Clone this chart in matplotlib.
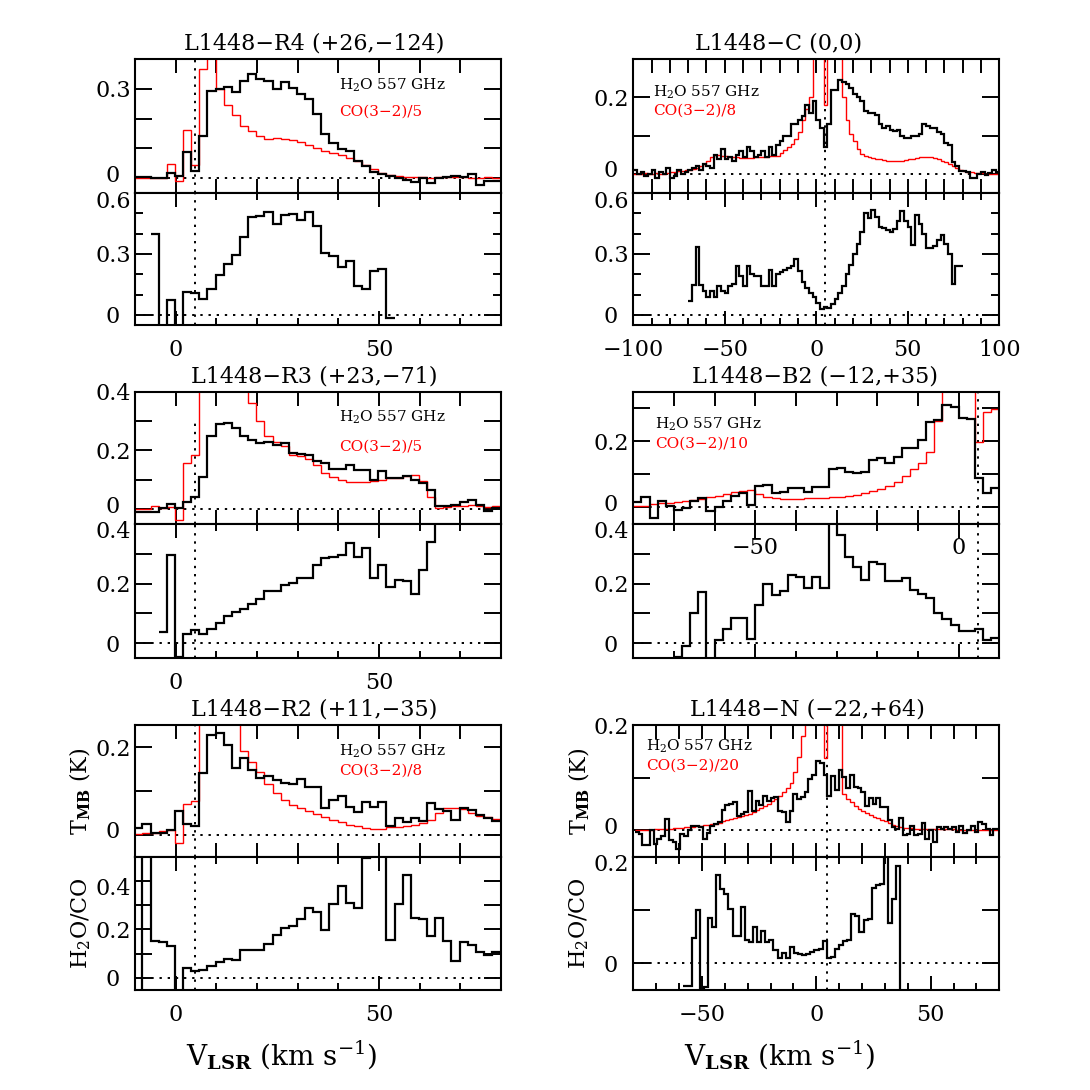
import numpy as np
import matplotlib
matplotlib.use('Agg')
import matplotlib.pyplot as plt
from matplotlib.ticker import MultipleLocator, NullLocator
from matplotlib.transforms import ScaledTranslation

plt.rcParams['font.family'] = 'DejaVu Serif'
plt.rcParams['mathtext.fontset'] = 'dejavuserif'

V_SYS = 4.7  # source systemic velocity

# ---------------- L1448-R4 (+26,-124) ----------------
r4_v0, r4_dv = -9.2, 2.0
r4_h2o = [0.003, 0.003, 0.001, 0.001, 0.017, 0.007, 0.089, 0.025, 0.14, 0.294,
          0.299, 0.306, 0.29, 0.325, 0.351, 0.334, 0.328, 0.299, 0.322, 0.302,
          0.283, 0.265, 0.215, 0.149, 0.117, 0.098, 0.092, 0.058, 0.041, 0.02,
          0.0125, 0.007, 0.001, -0.005, -0.0125, 0.001, -0.016, 0.001, 0.003, 0.007,
          0.003, 0.0125, -0.022, -0.008, -0.008]
r4_co = [0.002, 0.002, 0.001, 0.0, 0.049, -0.008, 0.163, 0.045, 0.368, 0.6,
         0.30, 0.245, 0.211, 0.174, 0.16, 0.143, 0.132, 0.134, 0.132, 0.128,
         0.12, 0.111, 0.101, 0.092, 0.083, 0.077, 0.069, 0.056, 0.044, 0.03,
         0.018, 0.01, 0.007, 0.004, 0.003, 0.003, 0.002, 0.003, 0.004, 0.003,
         0.003, 0.002, 0.002, 0.003, 0.002]
r4_rat_v0 = -5.2
r4_ratio = [0.40, -0.2, 0.074, -0.2, 0.111, 0.107, 0.077, 0.128, 0.197, 0.25,
            0.295, 0.382, 0.484, 0.489, 0.508, 0.446, 0.492, 0.495, 0.467, 0.508,
            0.438, 0.303, 0.292, 0.238, 0.266, 0.143, 0.126, 0.216, 0.225, -0.013]

# ---------------- L1448-C (0,0) ----------------
c_v0, c_dv = -99.0, 2.0
c_h2o = [0.01, 0.0, 0.005, -0.005, 0.0, 0.01, -0.01, 0.005, 0.0, 0.015,
         -0.01, -0.005, 0.01, 0.0, 0.005,
         0.01, 0.015, 0.02, 0.01, 0.025, 0.02, 0.015,
         0.05, 0.04, 0.065, 0.04, 0.045, 0.035, 0.05, 0.06,
         0.045, 0.07, 0.06, 0.045, 0.05, 0.06, 0.045, 0.07, 0.05, 0.075,
         0.085, 0.1, 0.1, 0.13, 0.13, 0.14, 0.15, 0.18, 0.16, 0.19,
         0.14, 0.12, 0.07, 0.13, 0.22,
         0.22, 0.246, 0.24, 0.235, 0.225, 0.21, 0.2, 0.19, 0.165, 0.16,
         0.16, 0.155, 0.13, 0.12, 0.125, 0.115, 0.112, 0.115, 0.1, 0.095,
         0.095, 0.1, 0.1, 0.105, 0.13, 0.125, 0.12, 0.12, 0.11, 0.105,
         0.08, 0.075, 0.03, 0.02, 0.007, 0.008, 0.005, -0.01, -0.012, 0.0,
         0.005, -0.003, 0.003, 0.01, 0.004]
c_co = [0.0, 0.0, 0.0, 0.002, 0.0, 0.0, 0.003, 0.0, 0.0, 0.003,
        0.005, 0.005, 0.008, 0.008, 0.01,
        0.01, 0.012, 0.015, 0.02, 0.025, 0.035, 0.045,
        0.05, 0.05, 0.048, 0.046, 0.045, 0.044, 0.043, 0.042,
        0.042, 0.042, 0.042, 0.043, 0.043, 0.044, 0.045, 0.046, 0.047, 0.048,
        0.055, 0.062, 0.07, 0.078, 0.09, 0.11, 0.14, 0.17, 0.2, 0.6,
        0.6, 0.6, 0.18, 0.6, 0.6,
        0.6, 0.6, 0.2, 0.14, 0.105, 0.085, 0.065, 0.053, 0.047, 0.045,
        0.042, 0.04, 0.038, 0.036, 0.035, 0.034, 0.034, 0.033, 0.034, 0.036,
        0.038, 0.04, 0.042, 0.044, 0.045, 0.044, 0.043, 0.042, 0.038, 0.034,
        0.03, 0.025, 0.02, 0.015, 0.01, 0.008, 0.005, 0.004, 0.003, 0.002,
        0.002, 0.001, 0.0, 0.0, 0.0]
c_rat_v0 = -69.0
c_ratio = [0.07, 0.148, 0.333, 0.148, 0.12, 0.09, 0.12, 0.09, 0.14, 0.12,
           0.11, 0.14, 0.15, 0.24, 0.19, 0.14, 0.24, 0.2, 0.19, 0.19,
           0.14, 0.14, 0.22, 0.14, 0.2, 0.21, 0.22, 0.23, 0.24, 0.275,
           0.215, 0.16, 0.13, 0.11, 0.09, 0.06, 0.03, 0.04, 0.035, 0.055,
           0.08, 0.11, 0.14, 0.2, 0.245, 0.3, 0.35, 0.41, 0.5, 0.475,
           0.515, 0.48, 0.435, 0.43, 0.42, 0.41, 0.425, 0.46, 0.51, 0.46,
           0.435, 0.345, 0.49, 0.45, 0.4, 0.33, 0.33, 0.34, 0.37, 0.393,
           0.35, 0.3, 0.15, 0.24, 0.24]

# ---------------- L1448-R3 (+23,-71) ----------------
r3_v0, r3_dv = -9.2, 2.0
r3_h2o = [-0.01, -0.01, -0.008, 0.005, 0.018, 0.005, 0.025, 0.04, 0.11, 0.25,
          0.29, 0.292, 0.275, 0.25, 0.235, 0.225, 0.23, 0.22, 0.224, 0.19,
          0.187, 0.184, 0.165, 0.156, 0.136, 0.136, 0.15, 0.133, 0.133, 0.1,
          0.131, 0.106, 0.108, 0.114, 0.1, 0.09, 0.065, 0.01, 0.012, 0.015,
          0.025, 0.03, 0.016, -0.006, 0.005]
r3_co = [0.0, 0.002, 0.01, 0.005, 0.008, -0.035, 0.156, 0.184, 0.6, 0.6,
         0.6, 0.6, 0.6, 0.6, 0.36, 0.3, 0.25, 0.23, 0.215, 0.185,
         0.18, 0.17, 0.15, 0.125, 0.11, 0.1, 0.092, 0.092, 0.092, 0.097,
         0.1, 0.105, 0.108, 0.114, 0.115, 0.095, 0.04, 0.005, 0.008, 0.01,
         0.012, 0.015, 0.01, 0.007, 0.01]
r3_rat_v0 = -3.2
r3_ratio = [0.037, 0.296, -0.048, 0.032, 0.043, 0.029, 0.049, 0.068, 0.092, 0.103,
            0.115, 0.13, 0.149, 0.176, 0.176, 0.194, 0.202, 0.217, 0.217, 0.262,
            0.285, 0.289, 0.296, 0.336, 0.29, 0.32, 0.219, 0.261, 0.19, 0.211,
            0.21, 0.164, 0.244, 0.34, 0.5]

# ---------------- L1448-B2 (-12,+35) ----------------
b2_v0, b2_dv = -79.0, 2.0
b2_h2o = [0.015, 0.03, -0.032, 0.02, 0.003, -0.007, -0.002, 0.018, 0.028, -0.012,
          0.0, 0.02, 0.036, 0.043, 0.008, 0.066, 0.068, 0.043, 0.048, 0.06,
          0.058, 0.048, 0.063, 0.063, 0.115, 0.12, 0.108, 0.103, 0.106, 0.143,
          0.15, 0.133, 0.153, 0.18, 0.18, 0.203, 0.258, 0.263, 0.31, 0.303,
          0.27, 0.268, 0.09, 0.043, 0.058]
b2_co = [0.003, 0.005, 0.01, 0.012, 0.014, 0.016, 0.019, 0.022, 0.025, 0.03,
         0.034, 0.04, 0.046, 0.05, 0.054, 0.04, 0.03, 0.027, 0.026, 0.026,
         0.026, 0.027, 0.028, 0.029, 0.031, 0.033, 0.036, 0.039, 0.044, 0.05,
         0.056, 0.065, 0.077, 0.096, 0.117, 0.135, 0.168, 0.26, 0.6, 0.6,
         0.6, 0.6, 0.198, 0.288, 0.298]
b2_rat_v0 = -69.0
b2_ratio = [-0.048, -0.01, 0.102, 0.17, -0.1, 0.009, 0.049, 0.085, 0.085, 0.013,
            0.128, 0.2, 0.162, 0.175, 0.23, 0.221, 0.184, 0.221, 0.184, 0.6,
            0.364, 0.29, 0.255, 0.213, 0.273, 0.264, 0.21, 0.207, 0.219, 0.179,
            0.164, 0.153, 0.1, 0.08, 0.06, 0.041, 0.04, 0.046, 0.012, 0.017]

# ---------------- L1448-R2 (+11,-35) ----------------
r2_v0, r2_dv = -9.2, 2.0
r2_h2o = [0.015, 0.024, 0.004, 0.004, 0.01, 0.055, 0.024, 0.019, 0.14, 0.228,
          0.232, 0.205, 0.153, 0.174, 0.147, 0.129, 0.135, 0.124, 0.119, 0.115,
          0.126, 0.108, 0.11, 0.06, 0.079, 0.088, 0.064, 0.051, 0.075, 0.064,
          0.075, 0.02, 0.039, 0.03, 0.039, 0.032, 0.073, 0.058, 0.055, 0.034,
          0.062, 0.056, 0.044, 0.038, 0.032]
r2_co = [0.002, 0.003, 0.003, 0.008, 0.012, -0.018, 0.07, 0.077, 0.5, 0.5,
         0.5, 0.5, 0.5, 0.19, 0.165, 0.144, 0.115, 0.095, 0.08, 0.069,
         0.062, 0.055, 0.047, 0.04, 0.034, 0.029, 0.023, 0.019, 0.015, 0.013,
         0.013, 0.017, 0.017, 0.019, 0.023, 0.026, 0.034, 0.05, 0.06, 0.06,
         0.058, 0.049, 0.043, 0.04, 0.035]
r2_rat_v0 = -9.2
r2_ratio = [-0.2, 0.6, 0.153, 0.148, 0.13, -0.2, 0.043, 0.029, 0.032, 0.048,
            0.066, 0.08, 0.076, 0.117, 0.117, 0.117, 0.142, 0.176, 0.206, 0.213,
            0.242, 0.289, 0.272, 0.197, 0.307, 0.378, 0.309, 0.289, 0.495, 0.6,
            0.6, 0.158, 0.304, 0.423, 0.247, 0.242, 0.173, 0.247, 0.151, 0.069,
            0.148, 0.135, 0.107, 0.093, 0.107]

# ---------------- L1448-N (-22,+64) ----------------
n_v0, n_dv = -78.5, 1.65
n_h2o = [-0.003, -0.006, -0.027, -0.028, 0.0, -0.025, -0.016, -0.01, 0.022, -0.019,
         -0.022, -0.036, -0.006, -0.011, 0.0, 0.0075, 0.009, 0.006, -0.016, -0.005,
         0.009, 0.0125, 0.016, 0.039, 0.049, 0.051, 0.053, 0.028, 0.031, 0.034,
         0.075, 0.0375, 0.055, 0.049, 0.066, 0.056, 0.061, 0.064, 0.0375, 0.034,
         0.016, 0.0375, 0.069, 0.059, 0.0625, 0.072, 0.097, 0.106, 0.131, 0.128,
         0.106, 0.066, 0.103, 0.076, 0.114, 0.101, 0.081, 0.106, 0.0825, 0.081,
         0.072, 0.047, 0.061, 0.05, 0.061, 0.044, 0.044, 0.019, 0.006, 0.003,
         0.024, -0.009, -0.006, 0.009, -0.009, -0.006, 0.014, -0.016, 0.0, -0.022,
         0.006, 0.003, 0.006, 0.003, 0.006, -0.003, 0.009, -0.005, 0.001, 0.009,
         -0.003, 0.016, 0.0125, 0.003, -0.009, 0.003, 0.003]
n_co = [0.001, 0.001, 0.001, 0.001, 0.001, 0.002, 0.002, 0.003, 0.003, 0.003,
        0.004, 0.005, 0.005, 0.006, 0.007, 0.007, 0.008,
        0.009, 0.01, 0.011, 0.012, 0.013,
        0.015, 0.017, 0.019, 0.021, 0.023,
        0.025, 0.027, 0.03, 0.032, 0.035,
        0.038, 0.042, 0.046, 0.05, 0.055,
        0.06, 0.066, 0.072, 0.08, 0.09,
        0.11, 0.14, 0.18,
        0.3, 0.3, 0.3, 0.3, 0.3, 0.1375, 0.3, 0.3, 0.3, 0.3,
        0.07, 0.06, 0.053, 0.046, 0.04, 0.036, 0.033, 0.029, 0.026, 0.023,
        0.02, 0.017, 0.015, 0.01, 0.008, 0.006, 0.005,
        0.004, 0.004, 0.003, 0.003, 0.003, 0.003, 0.002, 0.002, 0.002, 0.002,
        0.002, 0.002, 0.002, 0.001, 0.001, 0.001, 0.001, 0.001, 0.001, 0.001,
        0.001, 0.001, 0.001, 0.001, 0.001]
n_rat_v0, n_rat_dv = -57.2, 1.79
n_ratio = [-0.043, -0.043, 0.047, 0.1, -0.1, -0.044, 0.085, 0.068, 0.165, 0.139,
           0.13, 0.1025, 0.052, 0.051, 0.106, 0.044, 0.041, 0.068, 0.041, 0.061,
           0.041, 0.044, 0.025, 0.0095, 0.019, 0.0095, 0.03, 0.02, 0.017, 0.016,
           0.018, 0.022, 0.025, 0.027, 0.042, 0.0095, 0.0127, 0.027, 0.035, 0.042,
           0.043, 0.093, 0.089, 0.058, 0.082, 0.084, 0.142, 0.147, 0.149, 0.3,
           0.075, 0.12, 0.182, -0.1]


DOT = (0, (1.2, 3.0))


def steps(ax, v_first, dv, vals, **kw):
    # channels drawn as histogram steps centred on v_first + k*dv
    vals = np.asarray(vals, dtype=float)
    edges = v_first - dv / 2.0 + dv * np.arange(len(vals) + 1)
    ax.stairs(vals, edges, baseline=None, **kw)


def style(ax, xlim, ylim, yt, ytl, upper, xlab=True, yminor=False, vmax=1.0):
    ax.set_xlim(*xlim)
    ax.set_ylim(*ylim)
    ax.xaxis.set_major_locator(MultipleLocator(50))
    ax.xaxis.set_minor_locator(MultipleLocator(10))
    ax.set_yticks(yt)
    ax.set_yticklabels(ytl)
    if yminor:
        ax.yaxis.set_minor_locator(MultipleLocator(0.1))
    else:
        ax.yaxis.set_minor_locator(NullLocator())
    ax.tick_params(which='both', direction='in', top=True, right=True,
                   width=1.4, labelsize=16)
    ax.tick_params(axis='x', which='major', length=10, pad=10)
    ax.tick_params(axis='x', which='minor', length=10 if upper else 5)
    ax.tick_params(axis='y', which='major', length=12, pad=16)
    ax.tick_params(axis='y', which='minor', length=6)
    ax.tick_params(axis='x', labelbottom=(not upper) and xlab)
    plt.setp(ax.get_yticklabels(), ha='center')
    for s in ax.spines.values():
        s.set_linewidth(1.5)
    ax.axhline(0, color='k', lw=1.4, ls=DOT, zorder=1)
    ax.axvline(V_SYS, ymax=vmax, color='k', lw=1.4, ls=DOT, zorder=1)


def nudge(label, dy_px):
    # small vertical shift so stacked panel labels do not collide
    label.set_transform(label.get_transform() +
                        ScaledTranslation(0, dy_px / 100.0, fig.dpi_scale_trans))


fig = plt.figure(figsize=(10.9, 10.9), dpi=100)

LX, RX, W = 0.1239, 0.581, 0.3358
rows = [(0.8229, 0.1229, 0.7018, 0.1211),
        (0.5193, 0.1214, 0.3963, 0.1230),
        (0.2140, 0.1208, 0.0917, 0.1223)]

panels = [
    dict(title='L1448\u2212R4 (+26,\u2212124)', tx=0.49, cx=LX, row=0, xlim=(-10, 80),
         v0=r4_v0, dv=r4_dv, h2o=r4_h2o, co=r4_co, lab='CO(3\u22122)/5',
         rv0=r4_rat_v0, rdv=r4_dv, ratio=r4_ratio,
         uy=(-0.05, 0.4), ut=[0, 0.1, 0.2, 0.3], utl=['0', '', '', '0.3'],
         ly=(-0.05, 0.6), lt=[0, 0.3, 0.6], ltl=['0', '0.3', '0.6'], lminor=True,
         leg=(0.557, 0.806, 0.604)),
    dict(title='L1448\u2212C (0,0)', tx=0.396, cx=RX, row=0, xlim=(-100, 100),
         v0=c_v0, dv=c_dv, h2o=c_h2o, co=c_co, lab='CO(3\u22122)/8',
         rv0=c_rat_v0, rdv=c_dv, ratio=c_ratio,
         uy=(-0.05, 0.3), ut=[0, 0.1, 0.2], utl=['0', '', '0.2'],
         ly=(-0.05, 0.6), lt=[0, 0.3, 0.6], ltl=['0', '0.3', '0.6'], lminor=True,
         leg=(0.055, 0.754, 0.612)),
    dict(title='L1448\u2212R3 (+23,\u221271)', tx=0.49, cx=LX, row=1, xlim=(-10, 80),
         v0=r3_v0, dv=r3_dv, h2o=r3_h2o, co=r3_co, lab='CO(3\u22122)/5',
         rv0=r3_rat_v0, rdv=r3_dv, ratio=r3_ratio,
         uy=(-0.05, 0.4), ut=[0, 0.1, 0.2, 0.3, 0.4], utl=['0', '', '0.2', '', '0.4'],
         ly=(-0.05, 0.4), lt=[0, 0.1, 0.2, 0.3, 0.4], ltl=['0', '', '0.2', '', '0.4'],
         lminor=False, leg=(0.557, 0.809, 0.582), uvmax=0.78),
    dict(title='L1448\u2212B2 (\u221212,+35)', tx=0.497, cx=RX, row=1, xlim=(-80, 10),
         v0=b2_v0, dv=b2_dv, h2o=b2_h2o, co=b2_co, lab='CO(3\u22122)/10',
         rv0=b2_rat_v0, rdv=b2_dv, ratio=b2_ratio,
         uy=(-0.05, 0.35), ut=[0, 0.1, 0.2, 0.3], utl=['0', '', '0.2', ''],
         ly=(-0.05, 0.4), lt=[0, 0.1, 0.2, 0.3, 0.4], ltl=['0', '', '0.2', '', '0.4'],
         lminor=False, leg=(0.059, 0.756, 0.605), xlab=False),
    dict(title='L1448\u2212R2 (+11,\u221235)', tx=0.49, cx=LX, row=2, xlim=(-10, 80),
         v0=r2_v0, dv=r2_dv, h2o=r2_h2o, co=r2_co, lab='CO(3\u22122)/8',
         rv0=r2_rat_v0, rdv=r2_dv, ratio=r2_ratio,
         uy=(-0.05, 0.25), ut=[0, 0.1, 0.2], utl=['0', '', '0.2'],
         ly=(-0.05, 0.5), lt=[0, 0.1, 0.2, 0.3, 0.4], ltl=['0', '', '0.2', '', '0.4'],
         lminor=False, leg=(0.557, 0.80, 0.65)),
    dict(title='L1448\u2212N (\u221222,+64)', tx=0.475, cx=RX, row=2, xlim=(-80, 80),
         v0=n_v0, dv=n_dv, h2o=n_h2o, co=n_co, lab='CO(3\u22122)/20',
         rv0=n_rat_v0, rdv=n_rat_dv, ratio=n_ratio,
         uy=(-0.05, 0.2), ut=[0, 0.1, 0.2], utl=['0', '', '0.2'],
         ly=(-0.05, 0.2), lt=[0, 0.1, 0.2], ltl=['0', '', '0.2'],
         lminor=False, leg=(0.035, 0.84, 0.69)),
]

for p in panels:
    ub, uh, lb, lh = rows[p['row']]
    ax_u = fig.add_axes([p['cx'], ub, W, uh])
    ax_l = fig.add_axes([p['cx'], lb, W, lh])

    # spectra: CO scaled (red) and H2O (black)
    steps(ax_u, p['v0'], p['dv'], p['co'], color='red', lw=1.0, zorder=2)
    steps(ax_u, p['v0'], p['dv'], p['h2o'], color='black', lw=1.6, zorder=3)
    style(ax_u, p['xlim'], p['uy'], p['ut'], p['utl'], upper=True,
          vmax=p.get('uvmax', 1.0))

    # line ratio
    steps(ax_l, p['rv0'], p['rdv'], p['ratio'], color='black', lw=1.6, zorder=3)
    style(ax_l, p['xlim'], p['ly'], p['lt'], p['ltl'], upper=False,
          xlab=p.get('xlab', True), yminor=p['lminor'])

    # keep the upper "0" and the lower top label apart
    nudge(ax_u.get_yticklabels()[0], 5)
    nudge(ax_l.get_yticklabels()[-1], -6)

    lx, ly1, ly2 = p['leg']
    ax_u.text(lx, ly1, r'H$_2$O 557 GHz', transform=ax_u.transAxes,
              ha='left', va='center', fontsize=11, color='black')
    ax_u.text(lx, ly2, p['lab'], transform=ax_u.transAxes,
              ha='left', va='center', fontsize=11, color='red')
    ax_u.text(p['tx'], 1.035, p['title'], transform=ax_u.transAxes,
              ha='center', va='bottom', fontsize=16)

    if p['row'] == 2:
        ax_u.text(-0.148, 0.5, r'T$_{\mathbf{MB}}$ (K)', transform=ax_u.transAxes,
                  rotation=90, ha='center', va='center', fontsize=16)
        ax_l.text(-0.148, 0.5, r'H$_2$O/CO', transform=ax_l.transAxes,
                  rotation=90, ha='center', va='center', fontsize=16)
        ax_l.text(0.40, -0.49, r'V$_{\mathbf{LSR}}$ (km s$^{-1}$)',
                  transform=ax_l.transAxes, ha='center', va='center', fontsize=20)

    if p.get('xlab', True) is False:
        # the B2 velocity labels sit inside the ratio box
        for xv, s in [(-50, '\u221250'), (0, '0')]:
            ax_l.text(xv, 0.32, s, ha='center', va='center', fontsize=16)

fig.savefig('out.png', dpi=100)
